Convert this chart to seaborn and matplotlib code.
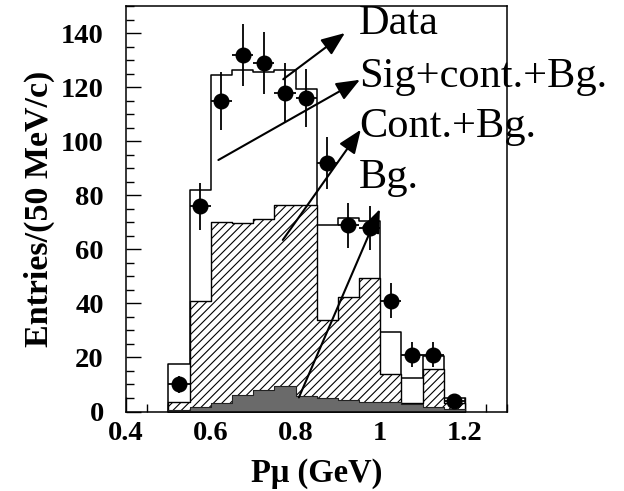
import numpy as np
import pandas as pd
import matplotlib
matplotlib.use("Agg")
import matplotlib.pyplot as plt
from matplotlib.ticker import MultipleLocator, FixedLocator, FixedFormatter
import seaborn as sns

# Muon momentum bins (GeV), 50 MeV/c wide
bin_edges = [0.50, 0.55, 0.60, 0.65, 0.70, 0.75, 0.80, 0.85,
             0.90, 0.95, 1.00, 1.05, 1.10, 1.15, 1.20]
bin_centers = [0.525, 0.575, 0.625, 0.675, 0.725, 0.775, 0.825,
               0.875, 0.925, 0.975, 1.025, 1.075, 1.125, 1.175]

# Expected yields per bin
sig_cont_bg = [17.5, 82, 124.5, 126.5, 125.5, 126.5, 119.5,
               69, 71.5, 70.5, 29.6, 12.5, 20.7, 5]
cont_bg = [3.6, 41, 70.3, 69.7, 71.2, 76.5, 76.5,
           33.9, 42.5, 49.6, 13.9, 3.0, 15.6, 3.0]
bg_only = [0.6, 1.8, 3.3, 6.1, 7.9, 9.3, 5.6,
           5.0, 4.2, 3.7, 3.4, 2.7, 1.8, 0.8]

# Observed events with statistical errors
data_counts = [10, 76, 115, 132, 129, 118, 116, 92, 69, 68, 41, 21, 21, 4]
data_err = [3.2, 8.7, 10.7, 11.5, 11.4, 10.9, 10.8, 9.6, 8.3, 8.2, 6.4, 4.6, 4.6, 2.0]
half_bin = 0.025

labels = ["Data", "Sig+cont.+Bg.", "Cont.+Bg.", "Bg."]

sns.set_theme(style="ticks")
plt.rcParams["font.family"] = ["Liberation Serif", "DejaVu Serif"]
plt.rcParams["text.color"] = "black"
plt.rcParams["axes.labelcolor"] = "black"
plt.rcParams["xtick.color"] = "black"
plt.rcParams["ytick.color"] = "black"
plt.rcParams["hatch.linewidth"] = 0.8
plt.rcParams["hatch.color"] = "black"

fig = plt.figure(figsize=(6.24, 4.91), dpi=100)
ax = fig.add_axes([126 / 624, 79.5 / 491, 381.4 / 624, 405.2 / 491])

df = pd.DataFrame({"p": bin_centers, "tot": sig_cont_bg,
                   "cont": cont_bg, "bg": bg_only})

sns.histplot(data=df, x="p", weights="tot", bins=bin_edges, element="step",
             fill=True, facecolor="white", edgecolor="black", linewidth=1.1,
             ax=ax)
sns.histplot(data=df, x="p", weights="cont", bins=bin_edges, element="step",
             fill=True, facecolor="white", edgecolor="black", linewidth=1.0,
             hatch="////", ax=ax)
sns.histplot(data=df, x="p", weights="bg", bins=bin_edges, element="step",
             fill=True, facecolor="#6a6a6a", edgecolor="#222222", linewidth=0.8,
             ax=ax)

ax.errorbar(bin_centers, data_counts, xerr=half_bin, yerr=data_err,
            fmt="o", color="black", markersize=10.5, elinewidth=1.3,
            capsize=0, zorder=5)

ax.set_xlim(0.4, 1.3)
ax.set_ylim(0, 150)

ax.xaxis.set_major_locator(FixedLocator([0.4, 0.6, 0.8, 1.0, 1.2]))
ax.xaxis.set_major_formatter(FixedFormatter(["0.4", "0.6", "0.8", "1", "1.2"]))
ax.xaxis.set_minor_locator(MultipleLocator(0.05))
ax.yaxis.set_major_locator(MultipleLocator(20))
ax.yaxis.set_minor_locator(MultipleLocator(5))

ax.tick_params(which="both", direction="in", top=False, right=False,
               colors="black", width=1.0)
ax.tick_params(which="major", length=11, labelsize=20.5)
ax.tick_params(which="minor", length=5.5)
ax.tick_params(axis="y", which="major", pad=16)
ax.tick_params(axis="x", which="major", pad=7)
for lab in ax.get_xticklabels() + ax.get_yticklabels():
    lab.set_fontweight("bold")

for sp in ax.spines.values():
    sp.set_visible(True)
    sp.set_color("black")
    sp.set_linewidth(1.1)

ax.set_xlabel("Pμ (GeV)", fontsize=23.5, fontweight="bold", color="black")
ax.set_ylabel("Entries/(50 MeV/c)", fontsize=24.5, fontweight="bold", color="black")
ax.xaxis.set_label_coords(0.5, -0.115)
ax.yaxis.set_label_coords(-0.185, 0.5)

# Labels with arrows pointing into the plot
label_pos = [(0.95, 139.7), (0.95, 120.0), (0.95, 101.5), (0.95, 82.9)]
arrow_tail = [(0.771, 123.0), (0.618, 93.1), (0.770, 63.5), (0.808, 5.2)]
arrow_tip = [(0.9165, 140.1), (0.952, 122.8), (0.954, 104.3), (0.999, 74.9)]

for txt, (tx, ty) in zip(labels, label_pos):
    ax.text(tx, ty, txt, fontsize=30.5, va="baseline", ha="left",
            color="black", clip_on=False, zorder=6)
for tail, tip in zip(arrow_tail, arrow_tip):
    ax.annotate("", xy=tip, xytext=tail, xycoords="data", textcoords="data",
                annotation_clip=False, zorder=7,
                arrowprops=dict(arrowstyle="-|>,head_length=0.6,head_width=0.24",
                                mutation_scale=24, color="black", lw=1.5,
                                shrinkA=0, shrinkB=0))

fig.savefig("out.png", dpi=100)
